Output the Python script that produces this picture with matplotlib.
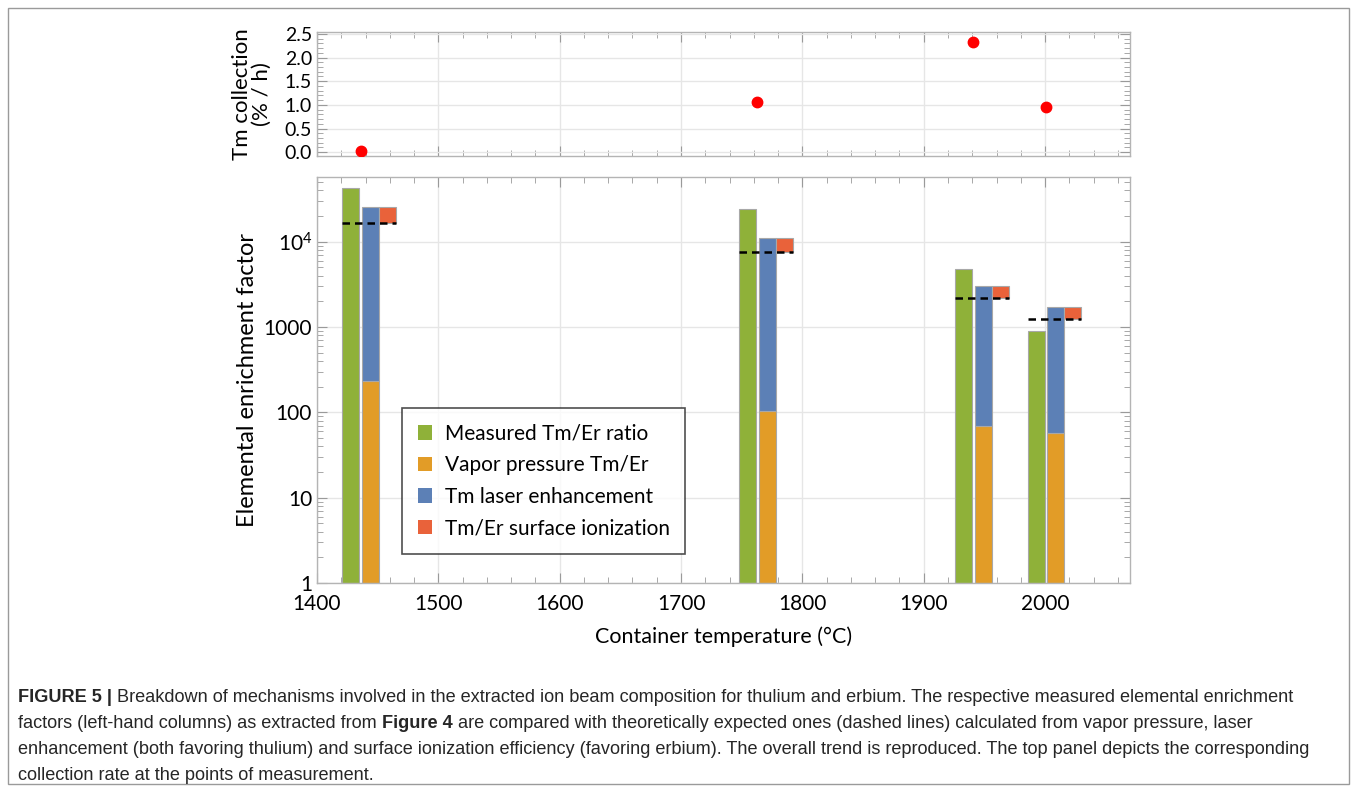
import matplotlib
matplotlib.use("Agg")
import numpy as np
import matplotlib.pyplot as plt
from matplotlib.patches import Patch, Rectangle
from matplotlib.ticker import FixedLocator, MultipleLocator, LogLocator, NullFormatter

# ---- data ----
temperatures = [1436, 1763, 1941, 2001]            # container temperature (°C)
collection_rate = [0.03, 1.07, 2.32, 0.95]         # Tm collection (% / h)
measured_ratio = [42400, 24000, 4800, 900]         # measured Tm/Er enrichment
vapor_pressure = [233, 103, 69, 57]                # Tm/Er from vapor pressure
laser_enhancement = [108, 106, 44, 30]             # Tm laser enhancement factor
surface_ionization = [0.65, 0.70, 0.72, 0.73]      # Tm/Er surface ionization factor

legend_labels = ["Measured Tm/Er ratio", "Vapor pressure Tm/Er",
                 "Tm laser enhancement", "Tm/Er surface ionization"]
x_ticks = [1400, 1500, 1600, 1700, 1800, 1900, 2000]
y_ticks = [1, 10, 100, 1000, 10000]
y_tick_labels = ["1", "10", "100", "1000", r"$\mathregular{10^4}$"]
top_ticks = [0.0, 0.5, 1.0, 1.5, 2.0, 2.5]

caption_lines = [
    [("FIGURE 5 |", "bold"),
     ("Breakdown of mechanisms involved in the extracted ion beam composition for thulium and erbium. "
      "The respective measured elemental enrichment", "normal")],
    [("factors (left-hand columns) as extracted from", "normal"), ("Figure 4", "bold"),
     ("are compared with theoretically expected ones (dashed lines) calculated from vapor pressure, laser",
      "normal")],
    [("enhancement (both favoring thulium) and surface ionization efficiency (favoring erbium). "
      "The overall trend is reproduced. The top panel depicts the corresponding", "normal")],
    [("collection rate at the points of measurement.", "normal")],
]

# ---- style ----
GREEN = "#8FB139"
ORANGE = "#E29C27"
BLUE = "#5C80B6"
RED = "#E9623A"
FRAME = "#b4b4b4"
GRID = "#e6e6e6"
TICK = "#9a9a9a"

label_font = ["Lato", "DejaVu Sans"]
caption_font = ["Liberation Sans", "DejaVu Sans"]
plt.rcParams["font.family"] = label_font
plt.rcParams["mathtext.fontset"] = "custom"
plt.rcParams["mathtext.rm"] = "Lato"

fig = plt.figure(figsize=(13.57, 7.92), dpi=100)

W, H = 1357.0, 792.0
ax_left, ax_right = 317 / W, 1130 / W
ax_top = fig.add_axes([ax_left, 1 - 156 / H, ax_right - ax_left, (156 - 31.5) / H])
ax = fig.add_axes([ax_left, 1 - 583 / H, ax_right - ax_left, (583 - 176.5) / H])


def style_frame(a):
    for s in a.spines.values():
        s.set_color(FRAME)
        s.set_linewidth(1.0)
    a.tick_params(which="both", direction="in", top=True, right=True,
                  color=TICK, labelcolor="black", labelsize=14)
    a.tick_params(which="major", length=7, width=0.8)
    a.tick_params(which="minor", length=4, width=0.6)
    a.set_axisbelow(True)


# ---- top panel: collection rate ----
style_frame(ax_top)
ax_top.plot(temperatures, collection_rate, "o", color="#ff0000", markersize=7.5, zorder=3)
ax_top.set_xlim(1400, 2070)
ax_top.set_ylim(-0.08, 2.55)
ax_top.xaxis.set_major_locator(FixedLocator(x_ticks))
ax_top.xaxis.set_minor_locator(MultipleLocator(20))
ax_top.set_xticklabels([])
ax_top.yaxis.set_major_locator(FixedLocator(top_ticks))
ax_top.yaxis.set_minor_locator(MultipleLocator(0.1))
ax_top.set_yticklabels([f"{v:.1f}" for v in top_ticks])
ax_top.grid(True, which="major", color=GRID, linewidth=1.0)
ax_top.set_ylabel("Tm collection\n(% / h)", fontsize=16, linespacing=0.95)
ax_top.yaxis.set_label_coords(-0.056, 0.5)

# ---- bottom panel: enrichment factors ----
style_frame(ax)
bar_w = 14
temps = np.array(temperatures, dtype=float)
vapor = np.array(vapor_pressure, dtype=float)
laser_total = vapor * np.array(laser_enhancement, dtype=float)
expected = laser_total * np.array(surface_ionization, dtype=float)
measured = np.array(measured_ratio, dtype=float)

edge = dict(edgecolor="#a8a8a8", linewidth=0.8)
ax.bar(temps - 8, measured - 1, bottom=1, width=bar_w, color=GREEN, zorder=2, **edge)
ax.bar(temps + 8, vapor - 1, bottom=1, width=bar_w, color=ORANGE, zorder=2, **edge)
ax.bar(temps + 8, laser_total - vapor, bottom=vapor, width=bar_w, color=BLUE, zorder=2, **edge)
ax.bar(temps + 22, laser_total - expected, bottom=expected, width=bar_w, color=RED, zorder=2, **edge)
ax.hlines(expected, temps - 15, temps + 29, colors="black", linestyles=(0, (3, 2)),
          linewidth=1.8, zorder=4)

ax.set_yscale("log")
ax.set_xlim(1400, 2070)
ax.set_ylim(1, 58000)
ax.xaxis.set_major_locator(FixedLocator(x_ticks))
ax.xaxis.set_minor_locator(MultipleLocator(20))
ax.set_xticklabels([str(t) for t in x_ticks])
ax.yaxis.set_major_locator(FixedLocator(y_ticks))
ax.set_yticklabels(y_tick_labels)
ax.yaxis.set_minor_locator(LogLocator(base=10, subs=np.arange(2, 10)))
ax.yaxis.set_minor_formatter(NullFormatter())
ax.tick_params(axis="x", which="major", pad=8, labelsize=15)
ax.tick_params(axis="y", which="major", labelsize=15)
ax.grid(True, which="major", color=GRID, linewidth=1.0)
ax.set_xlabel("Container temperature (°C)", fontsize=15.5)
ax.xaxis.set_label_coords(0.5, -0.106)
ax.set_ylabel("Elemental enrichment factor", fontsize=17)
ax.yaxis.set_label_coords(-0.073, 0.5)

handles = [Patch(facecolor=c, edgecolor="none") for c in (GREEN, ORANGE, BLUE, RED)]
leg = ax.legend(handles, legend_labels, loc="lower left",
                bbox_to_anchor=((402 - 317) / 813, (583 - 554) / 406.5),
                fontsize=15, frameon=True, fancybox=False, handlelength=0.7,
                handleheight=0.7, handletextpad=0.6, labelspacing=0.55,
                borderpad=0.75, borderaxespad=0.0)
leg.get_frame().set_edgecolor("#222222")
leg.get_frame().set_linewidth(1.2)

# ---- caption ----
fig.add_artist(Rectangle((8 / W, 8 / H), 1341 / W, 776 / H, transform=fig.transFigure,
                         fill=False, edgecolor="#9a9a9a", linewidth=1.0))

renderer = fig.canvas.get_renderer()


def text_width(s, weight, size):
    t = fig.text(0, 0, s, fontsize=size, family=caption_font, weight=weight)
    w = t.get_window_extent(renderer).width
    t.remove()
    return w


cap_size = 13.1
space_w = text_width("x x", "normal", cap_size) - text_width("xx", "normal", cap_size)
line_y = [697, 723, 749, 775]
for parts, yp in zip(caption_lines, line_y):
    xp = 18.0
    for s, weight in parts:
        fig.text(xp / W, 1 - yp / H, s, fontsize=cap_size, family=caption_font,
                 weight=weight, va="center", ha="left", color="#262626")
        xp += text_width(s, weight, cap_size) + space_w

fig.savefig("out.png", dpi=100)
